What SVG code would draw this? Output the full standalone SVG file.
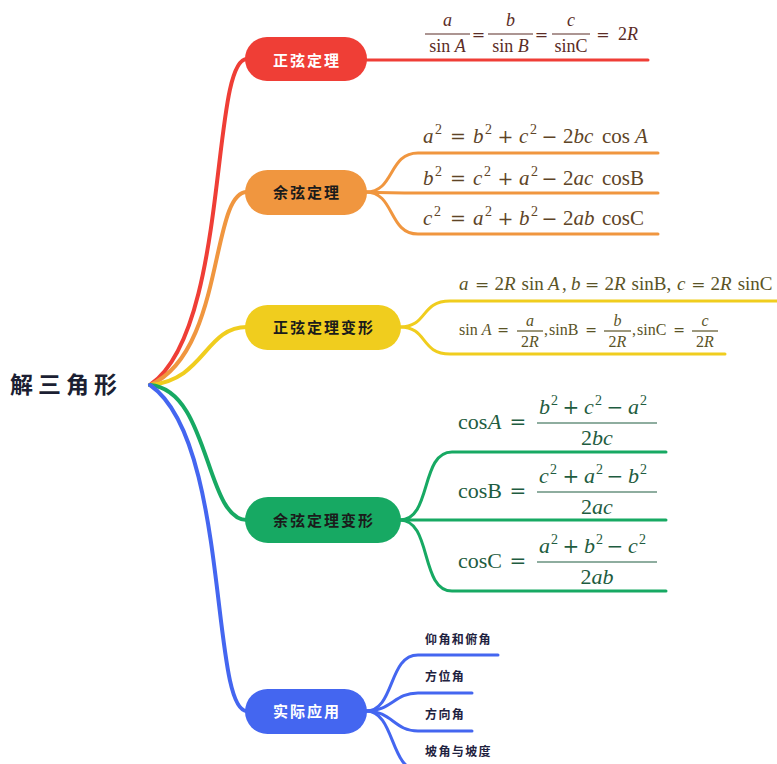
<svg xmlns="http://www.w3.org/2000/svg" width="777" height="764" viewBox="0 0 777 764">
<style>
.cjk{font-family:"Noto Sans CJK SC","Noto Sans",sans-serif;font-weight:700}
.node{font-size:15px;letter-spacing:2px;text-anchor:middle}
.leaf{font-size:12px;letter-spacing:1.4px;fill:#1f2240}
.m{font-family:"Liberation Serif","DejaVu Serif",serif}
.i{font-style:italic}
.c{text-anchor:middle}
.op{font-family:"DejaVu Serif","Liberation Serif",serif;text-anchor:middle}
.sup{font-size:14px}
.red{fill:#5b2c26}.org{fill:#5e4426}.yel{fill:#5a5326}.grn{fill:#1e5c40}
.bar{stroke-width:1.2}
</style>
<rect width="777" height="764" fill="#ffffff"/>

<g id="connectors" fill="none" stroke-linecap="round">
  <path d="M150,385 C230,330 210,59 247,59" stroke="#ef3e36" stroke-width="4"/>
  <path d="M150,385 C225,352 210,192 247,192" stroke="#f0963f" stroke-width="4"/>
  <path d="M150,385 C205,380 205,327 247,327" stroke="#f0cd1e" stroke-width="4"/>
  <path d="M150,385 C210,390 205,520 247,520" stroke="#17a963" stroke-width="4"/>
  <path d="M150,385 C230,440 210,711 247,711" stroke="#4466f0" stroke-width="4"/>

  <path d="M366,60 L648,60" stroke="#ef3e36" stroke-width="3"/>

  <path d="M366,192 C395,192 388,153 418,153 H658" stroke="#f0963f" stroke-width="3"/>
  <path d="M366,192 C390,193 400,193 418,193 H658" stroke="#f0963f" stroke-width="3"/>
  <path d="M366,192 C395,192 388,234 418,234 H658" stroke="#f0963f" stroke-width="3"/>

  <path d="M400,327 C428,327 420,301 450,301 H777" stroke="#f0cd1e" stroke-width="3"/>
  <path d="M400,327 C428,327 420,354 450,354 H725" stroke="#f0cd1e" stroke-width="3"/>

  <path d="M400,520 C432,520 420,452 452,452 H666" stroke="#17a963" stroke-width="3"/>
  <path d="M400,520 H666" stroke="#17a963" stroke-width="3"/>
  <path d="M400,520 C432,520 420,591 452,591 H666" stroke="#17a963" stroke-width="3"/>

  <path d="M366,711 C395,711 388,655 418,655 H498" stroke="#4466f0" stroke-width="3"/>
  <path d="M366,711 C392,711 394,693 418,693 H472" stroke="#4466f0" stroke-width="3"/>
  <path d="M366,711 C392,711 394,731 418,731 H472" stroke="#4466f0" stroke-width="3"/>
  <path d="M366,711 C395,711 390,770 418,770 H472" stroke="#4466f0" stroke-width="3"/>
</g>

<g id="root">
  <text x="10" y="393" class="cjk" font-size="23" font-weight="900" letter-spacing="5" fill="#1c1f33">解三角形</text>
</g>

<g id="n-sine">
  <rect x="245" y="37" width="122" height="44" rx="22" fill="#ef3e36"/>
  <text x="307" y="65.5" class="cjk node" fill="#ffffff">正弦定理</text>
</g>
<g id="n-cosine">
  <rect x="245" y="170" width="122" height="45" rx="22.5" fill="#f0963f"/>
  <text x="307" y="198" class="cjk node" fill="#1b1b1b">余弦定理</text>
</g>
<g id="n-sine-var">
  <rect x="245" y="305" width="156" height="45" rx="22.5" fill="#f0cd1e"/>
  <text x="324" y="333" class="cjk node" fill="#1b1b1b">正弦定理变形</text>
</g>
<g id="n-cosine-var">
  <rect x="245" y="497" width="156" height="46" rx="23" fill="#17a963"/>
  <text x="324" y="525.5" class="cjk node" fill="#1b1b1b">余弦定理变形</text>
</g>
<g id="n-app">
  <rect x="245" y="689" width="122" height="45" rx="22.5" fill="#4466f0"/>
  <text x="307" y="717" class="cjk node" fill="#ffffff">实际应用</text>
</g>

<g id="f-sine" class="m red" font-size="18">
  <text x="447.5" y="26" class="i c">a</text>
  <line x1="425" y1="34" x2="470" y2="34" stroke="#5b2c26" class="bar"/>
  <text x="447.5" y="52" class="c">sin <tspan class="i">A</tspan></text>
  <text x="478.5" y="39.5" class="op" font-size="16">=</text>
  <text x="510.5" y="26" class="i c">b</text>
  <line x1="488" y1="34" x2="533" y2="34" stroke="#5b2c26" class="bar"/>
  <text x="510.5" y="52" class="c">sin <tspan class="i">B</tspan></text>
  <text x="541.5" y="39.5" class="op" font-size="16">=</text>
  <text x="571" y="26" class="i c">c</text>
  <line x1="552" y1="34" x2="590" y2="34" stroke="#5b2c26" class="bar"/>
  <text x="571" y="52" class="c">sinC</text>
  <text x="603" y="39.5" class="op" font-size="16">=</text>
  <text x="618" y="39.5">2<tspan class="i">R</tspan></text>
</g>

<g id="f-cosine" class="m org" font-size="21">
  <text x="423" y="143" class="i">a</text><text x="435" y="134" class="sup">2</text>
  <text x="458" y="143" class="op" font-size="19">=</text>
  <text x="473" y="143" class="i">b</text><text x="485" y="134" class="sup">2</text>
  <text x="505.5" y="143" class="op" font-size="19">+</text>
  <text x="519" y="143" class="i">c</text><text x="530" y="134" class="sup">2</text>
  <text x="549.5" y="143" class="op" font-size="19">−</text>
  <text x="563" y="143">2<tspan class="i">bc</tspan></text>
  <text x="602" y="143">cos</text><text x="635" y="143" class="i">A</text>

  <text x="423" y="185" class="i">b</text><text x="435" y="176" class="sup">2</text>
  <text x="458" y="185" class="op" font-size="19">=</text>
  <text x="473" y="185" class="i">c</text><text x="484" y="176" class="sup">2</text>
  <text x="505.5" y="185" class="op" font-size="19">+</text>
  <text x="519" y="185" class="i">a</text><text x="531" y="176" class="sup">2</text>
  <text x="549.5" y="185" class="op" font-size="19">−</text>
  <text x="563" y="185">2<tspan class="i">ac</tspan></text>
  <text x="602" y="185">cosB</text>

  <text x="423" y="225" class="i">c</text><text x="434" y="216" class="sup">2</text>
  <text x="458" y="225" class="op" font-size="19">=</text>
  <text x="473" y="225" class="i">a</text><text x="485" y="216" class="sup">2</text>
  <text x="505.5" y="225" class="op" font-size="19">+</text>
  <text x="519" y="225" class="i">b</text><text x="531" y="216" class="sup">2</text>
  <text x="549.5" y="225" class="op" font-size="19">−</text>
  <text x="563" y="225">2<tspan class="i">ab</tspan></text>
  <text x="602" y="225">cosC</text>
</g>

<g id="f-sine-var" class="m yel">
  <g font-size="19">
    <text x="459" y="290" class="i">a</text>
    <text x="482" y="290" class="op" font-size="17">=</text>
    <text x="494.4" y="290">2<tspan class="i">R</tspan></text>
    <text x="521.5" y="290">sin</text>
    <text x="548" y="290" class="i">A</text>
    <text x="562" y="290">,</text>
    <text x="571" y="290" class="i">b</text>
    <text x="592.2" y="290" class="op" font-size="17">=</text>
    <text x="604.5" y="290">2<tspan class="i">R</tspan></text>
    <text x="631.6" y="290">sinB,</text>
    <text x="677" y="290" class="i">c</text>
    <text x="698.3" y="290" class="op" font-size="17">=</text>
    <text x="710.6" y="290">2<tspan class="i">R</tspan></text>
    <text x="737.7" y="290">sinC</text>
  </g>
  <g font-size="16">
    <text x="459" y="335">sin <tspan class="i">A</tspan></text>
    <text x="503" y="335" class="op" font-size="14">=</text>
    <text x="530" y="326" class="i c">a</text>
    <line x1="517" y1="331" x2="543" y2="331" stroke="#5a5326" class="bar"/>
    <text x="530" y="347" class="c">2<tspan class="i">R</tspan></text>
    <text x="544" y="335">,</text>
    <text x="549" y="335">sinB</text>
    <text x="591" y="335" class="op" font-size="14">=</text>
    <text x="617.5" y="326" class="i c">b</text>
    <line x1="604" y1="331" x2="631" y2="331" stroke="#5a5326" class="bar"/>
    <text x="617.5" y="347" class="c">2<tspan class="i">R</tspan></text>
    <text x="632" y="335">,</text>
    <text x="637" y="335">sinC</text>
    <text x="679" y="335" class="op" font-size="14">=</text>
    <text x="705" y="326" class="i c">c</text>
    <line x1="692" y1="331" x2="718" y2="331" stroke="#5a5326" class="bar"/>
    <text x="705" y="347" class="c">2<tspan class="i">R</tspan></text>
  </g>
</g>

<g id="f-cosine-var" class="m grn" font-size="22">
  <text x="458" y="429">cos</text><text x="488" y="429" class="i">A</text>
  <text x="518" y="429" class="op" font-size="20">=</text>
  <text x="539" y="414" class="i">b</text><text x="551" y="405" class="sup">2</text>
  <text x="571" y="414" class="op" font-size="20">+</text>
  <text x="584" y="414" class="i">c</text><text x="595" y="405" class="sup">2</text>
  <text x="615" y="414" class="op" font-size="20">−</text>
  <text x="628" y="414" class="i">a</text><text x="640" y="405" class="sup">2</text>
  <line x1="537" y1="423" x2="657" y2="423" stroke="#1e5c40" class="bar"/>
  <text x="597" y="445" class="c">2<tspan class="i">bc</tspan></text>

  <text x="458" y="498">cosB</text>
  <text x="518" y="498" class="op" font-size="20">=</text>
  <text x="539" y="483" class="i">c</text><text x="550" y="474" class="sup">2</text>
  <text x="571" y="483" class="op" font-size="20">+</text>
  <text x="584" y="483" class="i">a</text><text x="596" y="474" class="sup">2</text>
  <text x="615" y="483" class="op" font-size="20">−</text>
  <text x="628" y="483" class="i">b</text><text x="640" y="474" class="sup">2</text>
  <line x1="537" y1="492" x2="657" y2="492" stroke="#1e5c40" class="bar"/>
  <text x="597" y="514" class="c">2<tspan class="i">ac</tspan></text>

  <text x="458" y="568">cosC</text>
  <text x="518" y="568" class="op" font-size="20">=</text>
  <text x="539" y="553" class="i">a</text><text x="551" y="544" class="sup">2</text>
  <text x="571" y="553" class="op" font-size="20">+</text>
  <text x="584" y="553" class="i">b</text><text x="596" y="544" class="sup">2</text>
  <text x="615" y="553" class="op" font-size="20">−</text>
  <text x="628" y="553" class="i">c</text><text x="639" y="544" class="sup">2</text>
  <line x1="537" y1="562" x2="657" y2="562" stroke="#1e5c40" class="bar"/>
  <text x="597" y="584" class="c">2<tspan class="i">ab</tspan></text>
</g>

<g id="leaves-app">
  <text x="425" y="644" class="cjk leaf">仰角和俯角</text>
  <text x="425" y="681" class="cjk leaf">方位角</text>
  <text x="425" y="719" class="cjk leaf">方向角</text>
  <text x="425" y="756" class="cjk leaf">坡角与坡度</text>
</g>
</svg>
